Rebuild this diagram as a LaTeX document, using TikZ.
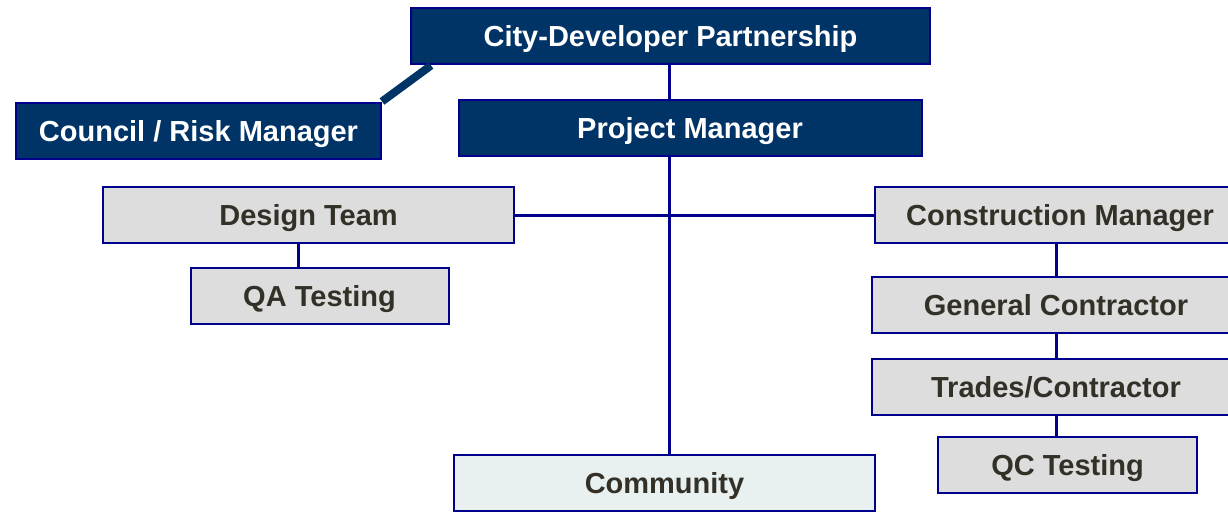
\documentclass[tikz,border=0pt]{standalone}
\usepackage{fontspec}
\setmainfont{Liberation Sans}
\definecolor{navyfill}{RGB}{0,51,102}
\definecolor{navyline}{RGB}{0,0,140}
\definecolor{boxgray}{RGB}{221,221,221}
\definecolor{commfill}{RGB}{232,240,240}
\definecolor{textdark}{RGB}{51,48,39}
\begin{document}
\begin{tikzpicture}[x=1pt,y=-1pt,
    box/.style={draw=navyline, line width=2pt, inner sep=0pt, minimum height=56pt,
      font=\fontsize{29}{34}\selectfont\bfseries, text height=21pt, text depth=0pt},
    topbox/.style={box, fill=navyfill, text=white},
    subbox/.style={box, fill=boxgray, text=textdark},
    commbox/.style={box, fill=commfill, text=textdark},
    link/.style={navyline, line width=3pt}]
  \useasboundingbox (0,0) rectangle (1228,511);
  \node[topbox, minimum width=519pt] (city) at (670.5,36.5) {City-Developer Partnership};
  \node[topbox, minimum width=365pt] (council) at (198.5,130.5) {Council / Risk Manager};
  \node[topbox, minimum width=463pt] (pm) at (690,128) {Project Manager};
  \node[subbox, minimum width=411pt] (design) at (308.5,215) {Design Team};
  \node[subbox, minimum width=258pt] (qa) at (319.5,296) {QA Testing};
  \node[subbox, minimum width=370pt] (cm) at (1060,215) {Construction Manager};
  \node[subbox, minimum width=368pt] (gc) at (1056,304.5) {General Contractor};
  \node[subbox, minimum width=368pt] (trades) at (1056,386.5) {Trades/Contractor};
  \node[subbox, minimum width=259pt] (qc) at (1067.5,465) {QC Testing};
  \node[commbox, minimum width=421pt] (comm) at (664.5,483) {Community};
  \coordinate (spine) at (669,0);
  \draw[navyfill, line width=8pt] ([xshift=21pt]city.south west) -- (council.north east);
  \draw[link] (city.south -| spine) -- (pm.north -| spine);
  \draw[link] (pm.south -| spine) -- (comm.north -| spine);
  \draw[link] (design.east) -- (cm.west);
  \draw[link] ([xshift=-21pt]qa.north) -- ([xshift=-21pt]qa.north |- design.south);
  \draw[link] (gc.north) -- (gc.north |- cm.south);
  \draw[link] (trades.north) -- (trades.north |- gc.south);
  \draw[link] (trades.south) -- (trades.south |- qc.north);
\end{tikzpicture}
\end{document}
